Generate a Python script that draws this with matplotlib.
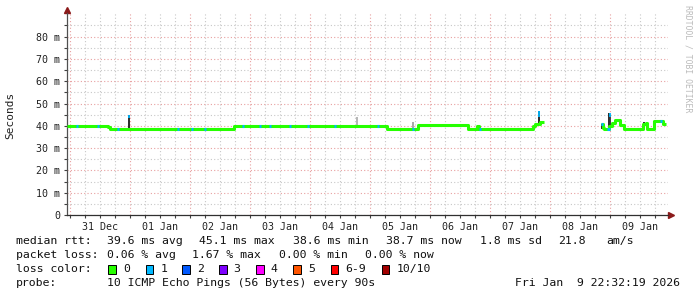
import numpy as np
import matplotlib
matplotlib.use("Agg")
import matplotlib.pyplot as plt
from matplotlib.patches import Rectangle

# hours relative to 01 Jan 00:00
x_start, x_end = -25.2, 215.2
day_labels = ["31 Dec", "01 Jan", "02 Jan", "03 Jan", "04 Jan",
              "05 Jan", "06 Jan", "07 Jan", "08 Jan", "09 Jan"]
midnights = [-24, 0, 24, 48, 72, 96, 120, 144, 168, 192]

y_major = [0, 10, 20, 30, 40, 50, 60, 70, 80]
y_labels = ["0", "10 m", "20 m", "30 m", "40 m", "50 m", "60 m", "70 m", "80 m"]
y_minor = [5, 15, 25, 35, 45, 55, 65, 75, 85]

# median rtt (ms), step values starting at each time
med_t = [-25.2, -8.8, -8.0, 41.6, 102.8, 115.2, 135.2, 138.8, 139.6, 161.2,
         162.0, 163.2, 164.0, 165.6, 188.4, 189.2, 189.6, 191.6, 192.8, 194.0,
         196.0, 197.6, 205.2, 206.4, 206.8, 209.6, 213.2, 214.4]
med_v = [40.0, 39.3, 38.6, 40.1, 38.6, 40.5, 38.6, 39.8, 38.6, 39.8,
         40.6, 41.0, 41.6, np.nan, 41.0, 38.9, 38.6, 40.0, 41.1, 42.4,
         40.4, 38.6, 40.8, 41.2, 38.6, 42.3, 41.0, np.nan]

# times where 1/10 packets were lost
loss1_t = [-21.2, -12.8, -4.8, 19.2, 24.8, 30.0, 45.2, 52.0, 56.0, 64.0,
           71.2, 82.0, 99.2, 113.2, 140.0, 188.7, 191.3, 212.4]

# smoke (min/max spread)
smoke_t = [-0.4, 90.8, 113.0, 163.6, 188.6, 191.6, 192.0, 205.6, 209.4]
smoke_lo = [38.6, 40.0, 39.0, 40.4, 38.6, 39.6, 40.4, 38.6, 38.6]
smoke_hi = [45.0, 44.0, 41.6, 46.8, 41.0, 45.6, 44.8, 41.6, 42.3]
smoke_c = ["#1a1a1a", "#b0b0b0", "#a0a0a0", "#1a1a1a", "#1a1a1a",
           "#1a1a1a", "#333333", "#1a1a1a", "#1a1a1a"]
tip_t = [-0.4, 163.6, 191.8]
tip_lo = [43.6, 44.0, 44.0]
tip_hi = [45.0, 46.8, 45.6]

loss_names = ["0", "1", "2", "3", "4", "5", "6-9", "10/10"]
loss_colors = ["#26ff00", "#00b8ff", "#0059ff", "#7e00ff", "#ff00ff",
               "#ff5500", "#ff0000", "#a10000"]

mono = "DejaVu Sans Mono"
W, H = 697, 297
fig = plt.figure(figsize=(W / 100, H / 100), dpi=100)
fig.patch.set_facecolor("white")
ax = fig.add_axes([67 / W, 1 - 215 / H, 601 / W, 202 / H])

ax.set_xlim(x_start, x_end)
ax.set_ylim(0, 90.6)

# grid
ax.set_xticks(midnights)
ax.set_xticklabels([""] * len(midnights))
minor_x = []
minor_lab = []
for i, d in enumerate(midnights):
    for off in (6, 12, 18):
        minor_x.append(d + off)
        minor_lab.append(day_labels[i] if off == 12 else "")
ax.set_xticks(minor_x, minor=True)
ax.set_xticklabels(minor_lab, minor=True, family=mono, fontsize=7.2, color="#222222")
ax.set_yticks(y_major)
ax.set_yticklabels(y_labels, family=mono, fontsize=7.2, color="#222222")
ax.set_yticks(y_minor, minor=True)

ax.grid(which="major", color="#e8a0a0", linestyle=(0, (1, 2)), lw=0.8)
ax.grid(which="minor", color="#c8c8c8", linestyle=(0, (1, 2)), lw=0.8)
ax.set_axisbelow(True)
ax.tick_params(which="both", direction="out", length=2.2, width=0.8, color="#404040")
ax.tick_params(axis="x", which="minor", pad=2.5)
ax.tick_params(axis="y", which="major", pad=2.8)

for s in ("top", "right"):
    ax.spines[s].set_visible(False)
ax.spines["left"].set_color("#505050")
ax.spines["bottom"].set_color("#303030")
ax.spines["left"].set_linewidth(0.9)
ax.spines["bottom"].set_linewidth(0.9)

# arrows
ax.plot([0], [1 + 3 / 202], marker="^", ms=4.5, color="#8b1a1a",
        transform=ax.transAxes, clip_on=False)
ax.plot([1 + 3 / 601], [0], marker=">", ms=4.5, color="#8b1a1a",
        transform=ax.transAxes, clip_on=False)

# smoke
ax.vlines(smoke_t, smoke_lo, smoke_hi, colors=smoke_c, lw=1.3, zorder=3)

# median line
ax.step(med_t, med_v, where="post", color=loss_colors[0], lw=2.2,
        solid_capstyle="butt", zorder=4)
mt = np.array(med_t)
mv = np.array(med_v)
idx = np.searchsorted(mt, loss1_t, side="right") - 1
ax.hlines(mv[idx], np.array(loss1_t) - 0.5, np.array(loss1_t) + 0.5,
          color=loss_colors[1], lw=2.2, zorder=5)
ax.vlines(tip_t, tip_lo, tip_hi, colors=loss_colors[1], lw=1.3, zorder=5)

# labels
fig.text(10 / W, 1 - 115 / H, "Seconds", rotation=90, family=mono,
         fontsize=8, ha="center", va="center", color="#222222")
fig.text(688 / W, 1 - 59 / H, "RRDTOOL / TOBI OETIKER", rotation=-90,
         family=mono, fontsize=5.9, ha="center", va="center", color="#bbbbbb")

fs = 8.25
def txt(x, y, s, ha="left"):
    fig.text(x / W, 1 - y / H, s, family=mono, fontsize=fs, ha=ha,
             va="center", color="#111111")

txt(16, 241.3, "median rtt:")
for x, s in zip([107.3, 199.3, 293.3, 386, 480, 558.3, 606.7],
                ["39.6 ms avg", "45.1 ms max", "38.6 ms min", "38.7 ms now",
                 "1.8 ms sd", "21.8", "am/s"]):
    txt(x, 241.3, s)

txt(16, 255.3, "packet loss:")
for x, s in zip([107.3, 192.3, 279.3, 365],
                ["0.06 % avg", "1.67 % max", "0.00 % min", "0.00 % now"]):
    txt(x, 255.3, s)

txt(16, 269.3, "loss color:")
box_x = [108.3, 145.7, 182.3, 219, 256, 293.3, 330.7, 381.7]
for bx, c, s in zip(box_x, loss_colors, loss_names):
    fig.patches.append(Rectangle((bx / W, 1 - 273.5 / H), 7.5 / W, 8.5 / H,
                                 transform=fig.transFigure, facecolor=c,
                                 edgecolor="black", lw=0.7))
    txt(bx + 14.5, 269.3, s)

txt(16, 283, "probe:")
txt(107.3, 283, "10 ICMP Echo Pings (56 Bytes) every 90s")
txt(680, 283, "Fri Jan  9 22:32:19 2026", ha="right")

fig.savefig("out.png", dpi=100, facecolor="white")
